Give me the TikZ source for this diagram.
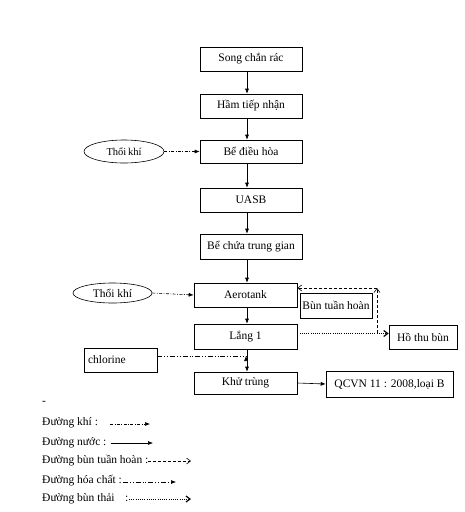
\documentclass[tikz,border=0pt]{standalone}
\usepackage{fontspec}
\setmainfont{Liberation Serif}
\usetikzlibrary{arrows.meta,shapes.geometric}
\begin{document}
\begin{tikzpicture}[x=1pt,y=-1pt,
  every node/.style={font=\fontsize{11.5}{13}\selectfont},
  box/.style={draw, line width=0.6pt, minimum width=102pt, minimum height=24pt, inner sep=0pt},
  oval/.style={draw, ellipse, line width=0.6pt, inner sep=0pt},
  flow/.style={line width=0.6pt, -{Latex[length=5pt,width=4pt]}},
  air/.style={line width=0.6pt, dash pattern=on 3pt off 1.5pt on 0.8pt off 1.5pt, -{Latex[length=5pt,width=4pt]}},
  chem/.style={line width=0.6pt, dash pattern=on 5pt off 2pt on 0.8pt off 2pt on 0.8pt off 2pt, -{Latex[length=5pt,width=4pt]}},
  recirc/.style={line width=0.6pt, dash pattern=on 3pt off 2pt, -{Straight Barb[length=4pt,width=6pt]}},
  waste/.style={line width=1pt, dash pattern=on 1pt off 1.2pt, -{Straight Barb[length=4pt,width=6pt,line width=1.2pt]}},
  legtxt/.style={anchor=west, inner sep=0pt}
]
\useasboundingbox (0,0) rectangle (465,512);
\fill[white] (0,0) rectangle (465,512);

% main column
\node[box] (song) at (251,59) {Song chắn rác};
\node[box] (ham) at (251,106) {Hầm tiếp nhận};
\node[box, minimum height=23pt] (bedh) at (251,151.5) {Bể điều hòa};
\node[box] (uasb) at (251,200) {UASB};
\node[box, minimum height=25pt] (bctg) at (251,246.5) {Bể chứa trung gian};
\node[box, minimum width=103pt] (aero) at (245.5,295) {Aerotank};
\node[box, minimum width=103pt, minimum height=25pt] (lang) at (245.5,336.5) {Lắng 1};
\node[box, minimum width=103pt, minimum height=22pt] (khu) at (245.5,383) {Khử trùng};

% side nodes
\node[oval, minimum width=80pt, minimum height=23pt, font=\fontsize{10.5}{12}\selectfont] (tk1) at (124,151.5) {Thổi\,khí};
\node[oval, minimum width=79pt, minimum height=20pt] (tk2) at (112.5,293) {Thổi khí};
\node[box, minimum width=72pt, minimum height=25pt] (btc) at (336,305.5) {Bùn tuần hoàn};
\node[box, minimum width=68pt, minimum height=24pt] (hotb) at (423,337) {Hồ thu bùn};
\node[box, minimum width=73pt, minimum height=24pt, align=left, text width=65pt] (chl) at (120.5,360) {chlorine};
\node[box, minimum width=127pt, minimum height=26pt] (qcvn) at (389.5,384) {QCVN 11 : 2008,loại B};

% column coordinate
\coordinate (col) at (247,0);
\coordinate (rc) at (377,333);
\coordinate (rctop) at (377,288);

% main flow
\draw[flow] (song.south -| col) -- (ham.north -| col);
\draw[flow] (ham.south -| col) -- (bedh.north -| col);
\draw[flow] (bedh.south -| col) -- (uasb.north -| col);
\draw[flow] (uasb.south -| col) -- (bctg.north -| col);
\draw[flow] (bctg.south -| col) -- (aero.north -| col);
\draw[flow] (aero.south -| col) -- (lang.north -| col);
\draw[flow] (lang.south -| col) -- (khu.north -| col);
\draw[flow] (khu.east) -- (qcvn.west);

% air
\draw[air] (tk1.east) -- (bedh.west);
\draw[air] (tk2.east) -- (aero.west);

% chemical
\draw[chem] ([yshift=4pt]chl.east) -- ([yshift=4pt]chl.east -| col) ++(-1,0);

% sludge
\draw[waste] ([yshift=3pt]lang.east) -- ([yshift=3pt]lang.east -| hotb.west);
\draw[recirc] (rc) -- (rctop);
\draw[recirc] (rctop) -- (rctop -| aero.east);

% legend
\node[legtxt] (dash) at (42,403) {-};
\node[legtxt] (l1) at (42,423) {Đường khí :};
\node[legtxt] (l2) at (42,443) {Đường nước :};
\node[legtxt] (l3) at (42,461) {Đường bùn tuần hoàn :};
\node[legtxt] (l4) at (42,481) {Đường hóa chất :};
\node[legtxt] (l5) at (42,499) {Đường bùn thải};
\node[legtxt] (l5c) at (125,499) {:};
\coordinate (a1) at (110,424); \coordinate (b1) at (150,424);
\coordinate (a2) at (111,443); \coordinate (b2) at (153,443);
\coordinate (a3) at (148,461); \coordinate (b3) at (191,461);
\coordinate (a4) at (123,482); \coordinate (b4) at (176,482);
\coordinate (a5) at (129,499); \coordinate (b5) at (191,499);
\draw[air] (a1) -- (b1);
\draw[flow] (a2) -- (b2);
\draw[recirc] (a3) -- (b3);
\draw[chem] (a4) -- (b4);
\draw[waste] (a5) -- (b5);
\end{tikzpicture}
\end{document}
